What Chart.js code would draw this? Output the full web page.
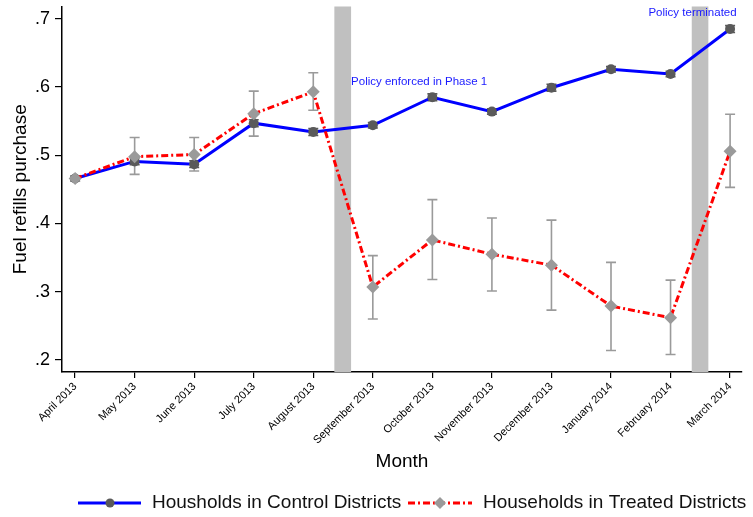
<!DOCTYPE html>
<html>
<head>
<meta charset="utf-8">
<script src="https://cdn.jsdelivr.net/npm/chart.js@4"></script>
<style>
  html, body { margin: 0; padding: 0; background: #fff; }
  #wrap { width: 753px; height: 517px; position: relative; }
</style>
</head>
<body>
<div id="wrap"><canvas id="c" width="753" height="517"></canvas></div>
<script>
// ---- data ----
const months = ["April 2013","May 2013","June 2013","July 2013","August 2013","September 2013",
  "October 2013","November 2013","December 2013","January 2014","February 2014","March 2014"];
const controlMean = [0.466,0.491,0.487,0.547,0.534,0.544,0.585,0.564,0.599,0.626,0.619,0.685];
const controlLow  = [0.462,0.486,0.482,0.542,0.529,0.540,0.580,0.560,0.594,0.622,0.615,0.680];
const controlHigh = [0.470,0.496,0.492,0.552,0.539,0.548,0.590,0.568,0.604,0.630,0.623,0.690];
const treatedMean = [0.466,0.498,0.501,0.561,0.593,0.307,0.376,0.355,0.339,0.279,0.262,0.506];
const treatedLow  = [0.462,0.472,0.477,0.528,0.566,0.260,0.318,0.301,0.273,0.214,0.208,0.453];
const treatedHigh = [0.470,0.526,0.526,0.594,0.621,0.353,0.435,0.408,0.405,0.343,0.317,0.560];
const yTicks = [0.2,0.3,0.4,0.5,0.6,0.7];
const bandStart = [4.354, 10.356];
const bandEnd   = [4.635, 10.635];
const notes = [
  {text: "Policy enforced in Phase 1", x: 4.635, y: 0.608, align: "left"},
  {text: "Policy terminated", x: 11.11, y: 0.708, align: "right"}
];
const seriesNames = ["Housholds in Control Districts", "Households in Treated Districts"];

const FONT = "'Liberation Sans', Arial, Helvetica, sans-serif";

const extras = {
  id: 'extras',
  beforeDatasetsDraw(chart) {
    const {ctx, chartArea: a, scales: {x, y}} = chart;
    ctx.save();
    // bands
    ctx.fillStyle = '#c0c0c0';
    for (let i = 0; i < bandStart.length; i++) {
      const x0 = x.getPixelForValue(bandStart[i]);
      const x1 = x.getPixelForValue(bandEnd[i]);
      ctx.fillRect(x0, a.top, x1 - x0, a.bottom - a.top);
    }
    // error bars
    const drawErr = (lo, hi, color, w, cap) => {
      ctx.strokeStyle = color; ctx.lineWidth = w;
      for (let i = 0; i < lo.length; i++) {
        const px = x.getPixelForValue(i);
        const p0 = y.getPixelForValue(lo[i]);
        const p1 = y.getPixelForValue(hi[i]);
        ctx.beginPath();
        ctx.moveTo(px, p0); ctx.lineTo(px, p1);
        ctx.moveTo(px - cap, p0); ctx.lineTo(px + cap, p0);
        ctx.moveTo(px - cap, p1); ctx.lineTo(px + cap, p1);
        ctx.stroke();
      }
    };
    drawErr(controlLow, controlHigh, '#5a5a5a', 1.6, 5);
    drawErr(treatedLow, treatedHigh, '#9a9a9a', 1.6, 5);
    ctx.restore();
  },
  afterDraw(chart) {
    const {ctx, scales: {x, y}} = chart;
    ctx.save();
    // annotations
    ctx.fillStyle = '#1a1aff';
    ctx.font = '11.5px ' + FONT;
    ctx.textBaseline = 'middle';
    notes.forEach(n => {
      ctx.textAlign = n.align;
      ctx.fillText(n.text, x.getPixelForValue(n.x), y.getPixelForValue(n.y));
    });
    // legend
    const ly = 503;
    ctx.lineWidth = 3;
    ctx.strokeStyle = '#0000ff';
    ctx.setLineDash([]);
    ctx.beginPath(); ctx.moveTo(78, ly); ctx.lineTo(141, ly); ctx.stroke();
    ctx.fillStyle = '#5a5a5a';
    ctx.beginPath(); ctx.arc(110, ly, 4.5, 0, Math.PI * 2); ctx.fill();
    ctx.strokeStyle = '#ff0000';
    ctx.setLineDash([7, 3, 2, 3]);
    ctx.beginPath(); ctx.moveTo(408, ly); ctx.lineTo(472, ly); ctx.stroke();
    ctx.setLineDash([]);
    ctx.fillStyle = '#9a9a9a';
    ctx.beginPath();
    ctx.moveTo(440, ly - 6); ctx.lineTo(446, ly); ctx.lineTo(440, ly + 6); ctx.lineTo(434, ly);
    ctx.closePath(); ctx.fill();
    ctx.fillStyle = '#111';
    ctx.font = '19px ' + FONT;
    ctx.textAlign = 'left';
    ctx.textBaseline = 'middle';
    ctx.fillText(seriesNames[0], 152, ly);
    ctx.fillText(seriesNames[1], 483, ly);
    ctx.restore();
  }
};

new Chart(document.getElementById('c'), {
  type: 'line',
  data: {
    datasets: [
      {
        label: seriesNames[1],
        data: treatedMean.map((v, i) => ({x: i, y: v})),
        borderColor: '#ff0000',
        borderWidth: 3,
        borderDash: [7, 3, 2, 3],
        pointStyle: 'rectRot',
        pointRadius: 6.5,
        pointBackgroundColor: '#9a9a9a',
        pointBorderColor: '#9a9a9a',
        pointBorderWidth: 0,
        tension: 0,
        order: 0
      },
      {
        label: seriesNames[0],
        data: controlMean.map((v, i) => ({x: i, y: v})),
        borderColor: '#0000ff',
        borderWidth: 3,
        pointStyle: 'circle',
        pointRadius: 5,
        pointBackgroundColor: '#5a5a5a',
        pointBorderColor: '#5a5a5a',
        pointBorderWidth: 0,
        tension: 0,
        order: 1
      }
    ]
  },
  options: {
    responsive: false,
    animation: false,
    events: [],
    layout: {padding: {left: 0, right: 11, top: 6, bottom: 40}},
    plugins: {legend: {display: false}, tooltip: {enabled: false}},
    scales: {
      x: {
        type: 'linear',
        min: -0.22, max: 11.2,
        afterBuildTicks: s => { s.ticks = months.map((_, i) => ({value: i})); },
        afterFit: s => { s.height = 105; s.paddingLeft = 0; s.paddingRight = 0; },
        grid: {display: true, drawOnChartArea: false, drawTicks: true, tickLength: 6, color: '#000', lineWidth: 1.2},
        border: {display: true, color: '#000', width: 1.5},
        ticks: {
          autoSkip: false, minRotation: 45, maxRotation: 45, padding: 2,
          color: '#000', font: {family: FONT, size: 11},
          callback: v => months[v]
        },
        title: {display: true, text: 'Month', color: '#000', font: {family: FONT, size: 19}, padding: {top: 0, bottom: 4}}
      },
      y: {
        type: 'linear',
        min: 0.1824, max: 0.718,
        afterBuildTicks: s => { s.ticks = yTicks.map(v => ({value: v})); },
        afterFit: s => { s.width = 62; s.paddingTop = 0; s.paddingBottom = 0; },
        grid: {display: true, drawOnChartArea: false, drawTicks: true, tickLength: 7, color: '#000', lineWidth: 1.2},
        border: {display: true, color: '#000', width: 1.5},
        ticks: {
          padding: 5, color: '#000', font: {family: FONT, size: 18},
          callback: v => v.toFixed(1).replace(/^0/, '')
        },
        title: {display: true, text: 'Fuel refills purchase', color: '#000', font: {family: FONT, size: 19}, padding: {top: 9, bottom: 0}}
      }
    }
  },
  plugins: [extras]
});
</script>
</body>
</html>
